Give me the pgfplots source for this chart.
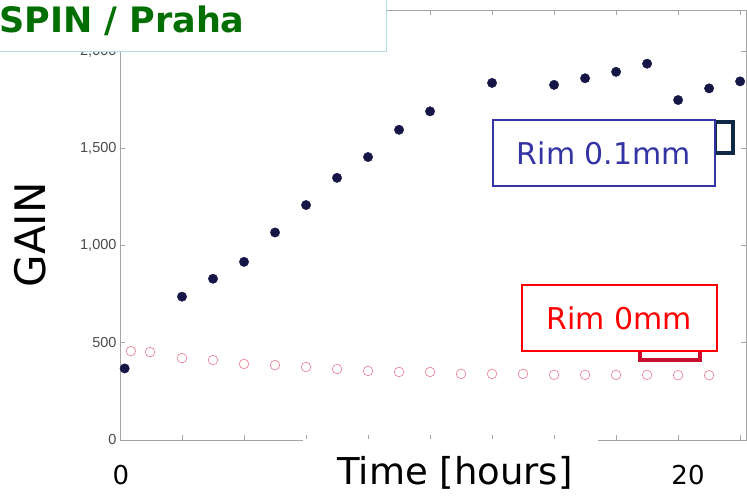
\documentclass[border=0pt]{standalone}
\usepackage{pgfplots}
\pgfplotsset{compat=1.18}
\usepackage{fontspec}
\setmainfont{DejaVu Sans}
\newfontfamily\tickfont{Liberation Sans}
\definecolor{navydot}{RGB}{22,22,70}
\definecolor{pinkring}{RGB}{230,135,155}
\definecolor{spingreen}{RGB}{0,110,0}
\definecolor{spinframe}{RGB}{176,220,226}
\definecolor{rimblue}{RGB}{52,52,165}
\definecolor{axisgray}{RGB}{165,165,165}
\definecolor{legnavy}{RGB}{15,40,70}
\definecolor{legred}{RGB}{200,16,46}

% gain vs time
\pgfplotstableread{
t     g
0.15  368
2     737
3     829
4     916
5     1067
6     1208
7     1348
8     1455
9     1595
10    1690
12    1836
14    1826
15    1860
16    1893
17    1935
18    1748
19    1808
20    1844
}\rimone

\pgfplotstableread{
t     g
0.35  457
0.97  452
2     421
3     411
4     391
5     385
6     375
7     365
8     355
9     350
10    350
11    340
12    340
13    340
14    335
15    335
16    335
17    335
18    333
19    333
}\rimzero

\begin{document}
\begin{tikzpicture}[x=1pt,y=1pt]
\begin{axis}[
  at={(120pt,58pt)}, anchor=south west,
  scale only axis, width=626pt, height=430pt,
  xmin=0, xmax=20.19, ymin=0, ymax=2211,
  axis line style={axisgray, line width=0.8pt},
  tick style={axisgray, line width=0.6pt},
  major tick length=5pt,
  xtick={2,4,...,20}, xticklabels={},
  ytick={0,500,1000,1500,2000},
  yticklabel style={font=\tickfont\fontsize{14.5}{14.5}\selectfont, text=black!70},
  /pgf/number format/assume math mode=true,
  /pgf/number format/1000 sep={,},
  clip=false,
]
\addplot[only marks, mark=o, mark size=4.8pt, draw=pinkring, line width=0.7pt] table[x=t,y=g] {\rimzero};
\addplot[only marks, mark=*, mark size=4.7pt, draw=navydot, fill=navydot] table[x=t,y=g] {\rimone};
\end{axis}

% label box hides part of bottom axis line
\fill[white] (303,48) rectangle (598,58.6);
\node[anchor=base, font=\fontsize{37}{37}\selectfont] at (455,13) {Time [hours]};
\node[anchor=base, font=\fontsize{26}{26}\selectfont] at (121,13) {0};
\node[anchor=base, font=\fontsize{26}{26}\selectfont] at (688,13) {20};
\node[anchor=base, rotate=90, font=\fontsize{42}{42}\selectfont] at (45,263) {GAIN};

% title box
\filldraw[fill=white, draw=spinframe, line width=1.2pt] (-10,446.3) rectangle (386.7,510);
\node[anchor=base west, inner sep=0pt, text=spingreen, font=\bfseries\fontsize{35}{35}\selectfont] at (-1,465.5) {SPIN / Praha};

% old legend pieces behind the labels
\filldraw[fill=white, draw=legnavy, line width=4pt] (715,345) rectangle (733,376);
\filldraw[fill=white, draw=legred, line width=4pt] (640,138) rectangle (700,168);

\node[draw=rimblue, fill=white, line width=1.2pt, minimum width=222pt, minimum height=66pt,
      text=rimblue, font=\fontsize{30}{30}\selectfont] at (604,345) {Rim 0.1mm};
\node[draw=red, fill=white, line width=1.2pt, minimum width=195pt, minimum height=66pt,
      text=red, font=\fontsize{30}{30}\selectfont] at (619.5,180) {Rim 0mm};

\pgfresetboundingbox
\path[use as bounding box] (0,0) rectangle (747,498);
\end{tikzpicture}
\end{document}
